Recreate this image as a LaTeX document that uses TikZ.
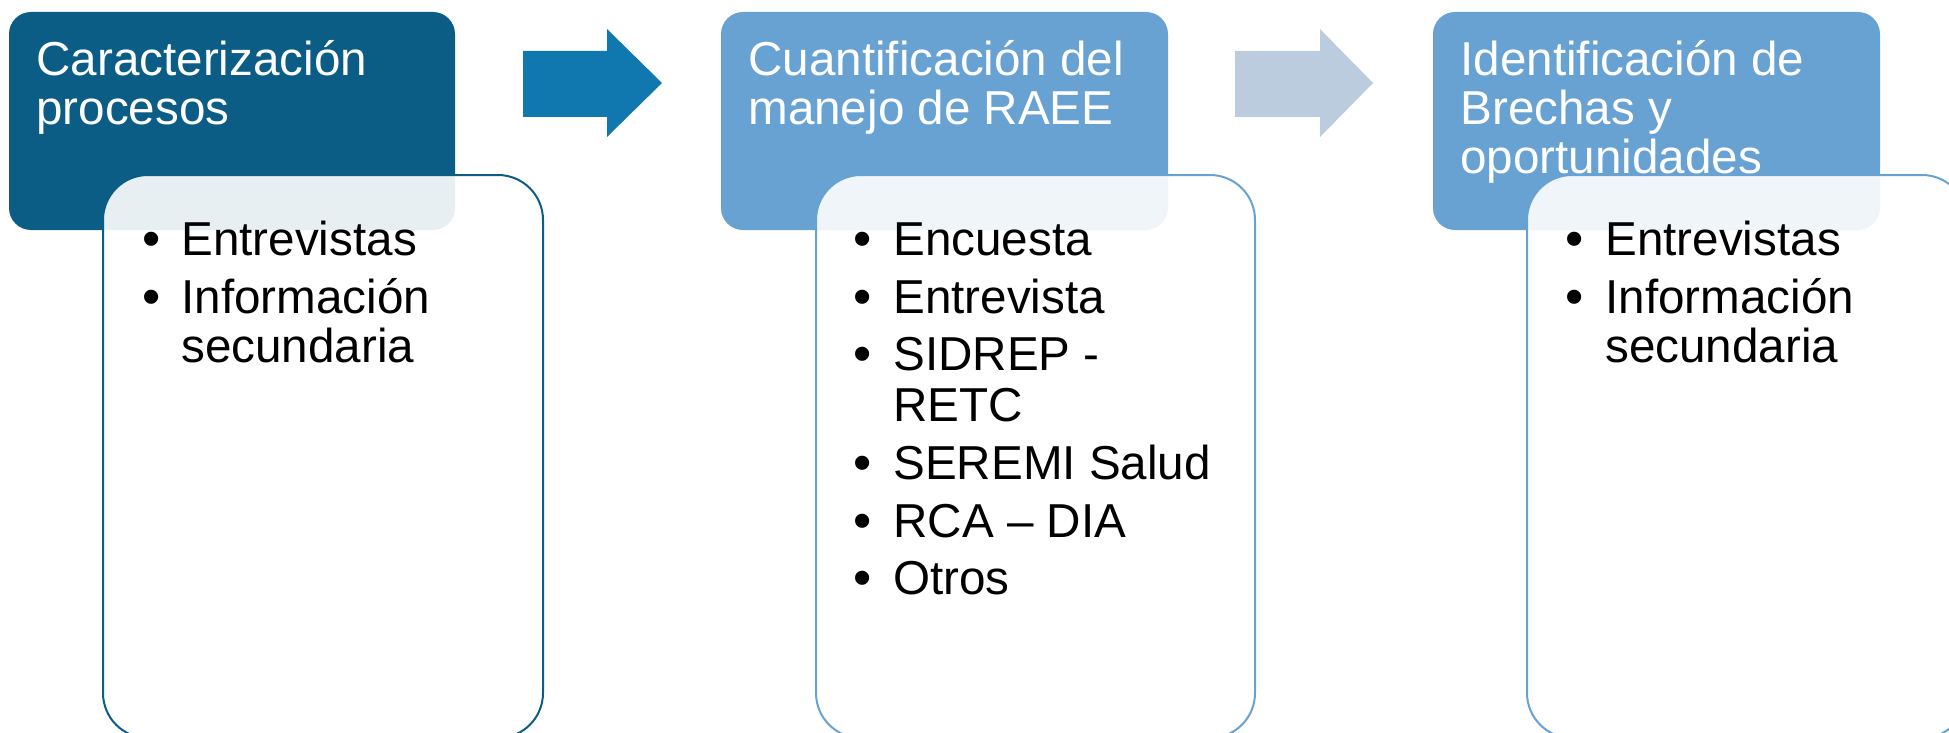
\documentclass[tikz,border=0pt]{standalone}
\usepackage{fontspec}
\setmainfont{Liberation Sans}
\definecolor{darkblue}{RGB}{11,93,133}
\definecolor{midblue}{RGB}{16,120,174}
\definecolor{lightblue}{RGB}{104,162,210}
\definecolor{paleblue}{RGB}{187,204,223}
\tikzset{
  hdrbox/.style={rounded corners=11pt},
  contentbox/.style={rounded corners=22.5pt, fill=white, fill opacity=0.9, line width=1pt},
  hdrtext/.style={anchor=base west, inner sep=0pt, text=white, font=\fontsize{23.8pt}{24.5pt}\selectfont},
  itemtext/.style={anchor=base west, inner sep=0pt, text=black, font=\fontsize{23.8pt}{24.5pt}\selectfont},
  bul/.style={anchor=base west, inner sep=0pt, text=black, font=\fontsize{26pt}{24.5pt}\selectfont},
}
\begin{document}
\begin{tikzpicture}[x=0.5pt,y=-0.5pt]
\useasboundingbox (0,0) rectangle (1949,733);
\clip (0,0) rectangle (1949,733);
% headers
\fill[hdrbox, darkblue] (9,12) rectangle (455,230);
\fill[hdrbox, lightblue] (721,12) rectangle (1168,230);
\fill[hdrbox, lightblue] (1433,12) rectangle (1880,230);
% header texts
\node[hdrtext] (h1a) at (36,76) {Caracterización};
\node[hdrtext] (h1b) at (36,125) {procesos};
\node[hdrtext] (h2a) at (748,76) {Cuantificación del};
\node[hdrtext] (h2b) at (748,125) {manejo de RAEE};
\node[hdrtext] (h3a) at (1460,76) {Identificación de};
\node[hdrtext] (h3b) at (1460,125) {Brechas y};
\node[hdrtext] (h3c) at (1460,173) {oportunidades};
% arrows
\fill[midblue] (523,51) -- (607,51) -- (607,29) -- (662,83) -- (607,137) -- (607,117) -- (523,117) -- cycle;
\fill[paleblue] (1235,51) -- (1320,51) -- (1320,29) -- (1373,83) -- (1320,137) -- (1320,117) -- (1235,117) -- cycle;
% content boxes
\draw[contentbox, draw=darkblue] (103,175) rectangle (543,738);
\draw[contentbox, draw=lightblue] (816,175) rectangle (1255,738);
\draw[contentbox, draw=lightblue] (1527,175) rectangle (1967,738);
% box 1 items
\node[bul] (b1a) at (142,256) {•};
\node[itemtext] (i1a) at (181,255) {Entrevistas};
\node[bul] (b1b) at (142,314) {•};
\node[itemtext] (i1b) at (181,313) {Información};
\node[itemtext] (i1c) at (181,362) {secundaria};
% box 2 items
\node[bul] (b2a) at (853,256) {•};
\node[itemtext] (i2a) at (893,255) {Encuesta};
\node[bul] (b2b) at (853,314) {•};
\node[itemtext] (i2b) at (893,313) {Entrevista};
\node[bul] (b2c) at (853,371) {•};
\node[itemtext] (i2c) at (893,370) {SIDREP -};
\node[itemtext] (i2d) at (893,421) {RETC};
\node[bul] (b2e) at (853,480) {•};
\node[itemtext] (i2e) at (893,479) {SEREMI Salud};
\node[bul] (b2f) at (853,538) {•};
\node[itemtext] (i2f) at (893,537) {RCA – DIA};
\node[bul] (b2g) at (853,595) {•};
\node[itemtext] (i2g) at (893,594) {Otros};
% box 3 items
\node[bul] (b3a) at (1565,256) {•};
\node[itemtext] (i3a) at (1605,255) {Entrevistas};
\node[bul] (b3b) at (1565,314) {•};
\node[itemtext] (i3b) at (1605,313) {Información};
\node[itemtext] (i3c) at (1605,362) {secundaria};
\end{tikzpicture}
\end{document}
